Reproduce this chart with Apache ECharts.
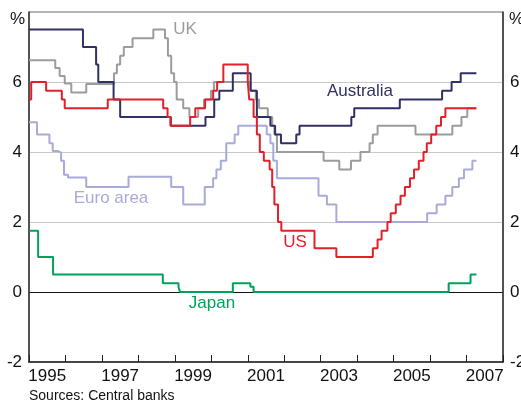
<!DOCTYPE html>
<html>
<head>
<meta charset="utf-8">
<script src="https://cdn.jsdelivr.net/npm/echarts@6/dist/echarts.min.js"></script>
<style>
html,body{margin:0;padding:0;background:#fff;}
#chart{width:521px;height:401px;}
</style>
</head>
<body>
<div id="chart"></div>
<script>
// Category labels for the x axis (one band per calendar year)
const yearLabels = ['1995','1996','1997','1998','1999','2000','2001','2002','2003','2004','2005','2006','2007'];

// Policy rates: [decimal year when the rate took effect, rate %]
const australia = [
  [1995.00,7.5],[1996.48,7.0],[1996.84,6.5],[1996.90,6.0],[1997.32,5.5],[1997.50,5.0],
  [1998.89,4.75],[1999.84,5.0],[2000.08,5.5],[2000.22,5.75],[2000.59,6.25],[2001.08,5.75],
  [2001.25,5.0],[2001.62,4.75],[2001.75,4.5],[2001.91,4.25],[2002.33,4.5],[2002.42,4.75],
  [2003.84,5.0],[2003.92,5.25],[2005.17,5.5],[2006.33,5.75],[2006.59,6.0],[2006.84,6.25],
  [2007.27,6.25]
];
const uk = [
  [1995.00,6.62],[1995.72,6.4],[1995.84,6.17],[1995.98,5.96],[1996.16,5.7],[1996.57,5.94],
  [1997.33,6.25],[1997.41,6.5],[1997.50,6.75],[1997.60,7.0],[1997.84,7.25],[1998.41,7.5],
  [1998.73,7.25],[1998.81,6.75],[1998.90,6.25],[1998.98,6.0],[1999.05,5.5],[1999.23,5.25],
  [1999.40,5.0],[1999.64,5.25],[1999.80,5.5],[1999.99,5.75],[2000.07,6.0],[2001.07,5.75],
  [2001.22,5.5],[2001.31,5.25],[2001.55,5.0],[2001.67,4.75],[2001.73,4.5],[2001.80,4.0],
  [2003.08,3.75],[2003.51,3.5],[2003.83,3.75],[2004.09,4.0],[2004.34,4.25],[2004.43,4.5],
  [2004.56,4.75],[2005.60,4.5],[2006.61,4.75],[2006.86,5.0],[2007.02,5.25],[2007.27,5.25]
];
const us = [
  [1995.00,5.5],[1995.06,6.0],[1995.47,5.75],[1995.90,5.5],[1995.98,5.25],[1997.16,5.5],
  [1998.68,5.25],[1998.80,5.0],[1998.88,4.75],[1999.42,5.0],[1999.56,5.25],[1999.83,5.5],
  [2000.05,5.75],[2000.16,6.0],[2000.33,6.5],[2001.00,6.0],[2001.04,5.5],[2001.16,5.0],
  [2001.25,4.5],[2001.33,4.0],[2001.44,3.75],[2001.60,3.5],[2001.67,3.0],[2001.73,2.5],
  [2001.83,2.0],[2001.92,1.75],[2002.83,1.25],[2003.43,1.0],[2004.43,1.25],[2004.56,1.5],
  [2004.67,1.75],[2004.83,2.0],[2004.92,2.25],[2005.06,2.5],[2005.19,2.75],[2005.31,3.0],
  [2005.45,3.25],[2005.56,3.5],[2005.69,3.75],[2005.82,4.0],[2005.91,4.25],[2006.03,4.5],
  [2006.17,4.75],[2006.30,5.0],[2006.42,5.25],[2007.27,5.25]
];
const euroArea = [
  [1995.00,4.85],[1995.22,4.5],[1995.56,4.25],[1995.65,4.03],[1995.79,3.98],[1995.88,3.75],
  [1995.96,3.35],[1996.07,3.27],[1996.57,3.0],[1997.73,3.29],[1998.90,3.0],[1999.23,2.5],
  [1999.82,3.0],[2000.05,3.25],[2000.14,3.5],[2000.26,3.75],[2000.41,4.25],[2000.64,4.5],
  [2000.74,4.75],[2001.52,4.5],[2001.62,4.25],[2001.70,3.75],[2001.80,3.25],[2002.94,2.75],
  [2003.17,2.5],[2003.43,2.0],[2005.92,2.25],[2006.18,2.5],[2006.42,2.75],[2006.61,3.0],
  [2006.79,3.25],[2006.93,3.5],[2007.16,3.75],[2007.27,3.75]
];
const japan = [
  [1995.00,1.75],[1995.25,1.0],[1995.66,0.5],[1998.67,0.25],[1999.10,0.15],[1999.14,0.0],
  [2000.59,0.25],[2001.07,0.15],[2001.16,0.0],[2006.51,0.25],[2007.11,0.5],[2007.27,0.5]
];

const FONT = 'Liberation Sans, Arial, Helvetica, sans-serif';
const C_AUS = '#303163', C_UK = '#9c9c9c', C_US = '#e3202a', C_EU = '#a9a9da', C_JP = '#00a25a';

const chart = echarts.init(document.getElementById('chart'), null, {renderer:'canvas'});

function stepSeries(name, data, color, z){
  return {
    name, type:'line', step:'end', data, showSymbol:false, symbol:'none',
    xAxisIndex:0, yAxisIndex:0, z,
    lineStyle:{color, width:2}, itemStyle:{color}, animation:false
  };
}

const labelText = (text, x, y, color, align) => ({
  type:'text', x, y, z:100,
  style:{text, fill:color, font:'17px ' + FONT, textAlign:align || 'center', textVerticalAlign:'middle'}
});

chart.setOption({
  backgroundColor:'#fff',
  animation:false,
  grid:{left:29, right:18, top:12, bottom:39, show:true, borderColor:'#6a6a6a', borderWidth:1,
        backgroundColor:'transparent', containLabel:false, outerBoundsMode:'none'},
  xAxis:[
    {
      type:'value', min:1995, max:2008, interval:1, position:'bottom', gridIndex:0,
      axisLine:{show:true, onZero:false, lineStyle:{color:'#222', width:1.5}},
      axisTick:{show:true, inside:true, length:7, lineStyle:{color:'#222', width:1}},
      axisLabel:{show:false}, splitLine:{show:false}
    },
    {
      type:'category', data:yearLabels, boundaryGap:true, position:'bottom', gridIndex:0,
      axisLine:{show:false, onZero:false}, axisTick:{show:false}, splitLine:{show:false},
      axisLabel:{show:true, interval:1, color:'#111', fontSize:17, fontFamily:FONT, margin:6}
    }
  ],
  yAxis:[
    {
      type:'value', min:-2, max:8, interval:2, position:'left',
      axisLine:{show:true, onZero:false, lineStyle:{color:'#333', width:1.5}},
      axisTick:{show:false},
      axisLabel:{color:'#111', fontSize:17, fontFamily:FONT, margin:7,
        formatter:v => (v === 8 ? '' : String(v))},
      splitLine:{show:true, lineStyle:{width:1,
        color:['rgba(0,0,0,0)','#111','#c8c8c8','#c8c8c8','#c8c8c8','rgba(0,0,0,0)']}}
    },
    {
      type:'value', min:-2, max:8, interval:2, position:'right',
      axisLine:{show:true, onZero:false, lineStyle:{color:'#333', width:1.5}},
      axisTick:{show:false},
      axisLabel:{color:'#111', fontSize:17, fontFamily:FONT, margin:7,
        formatter:v => (v === 8 ? '' : String(v))},
      splitLine:{show:false}
    }
  ],
  series:[
    stepSeries('Euro area', euroArea, C_EU, 2),
    stepSeries('UK', uk, C_UK, 3),
    stepSeries('Australia', australia, C_AUS, 4),
    stepSeries('Japan', japan, C_JP, 5),
    stepSeries('US', us, C_US, 6)
  ],
  graphic:[
    labelText('UK', 185, 29, C_UK),
    labelText('Australia', 360, 91, C_AUS),
    labelText('Euro area', 111, 198, C_EU),
    labelText('US', 295, 242, C_US),
    labelText('Japan', 212, 303, C_JP),
    labelText('%', 25, 19, '#111', 'right'),
    labelText('%', 509, 19, '#111', 'left'),
    {type:'text', x:29, y:396, z:100,
     style:{text:'Sources: Central banks', fill:'#111', font:'14px ' + FONT, textAlign:'left', textVerticalAlign:'middle'}}
  ]
});
</script>
</body>
</html>
